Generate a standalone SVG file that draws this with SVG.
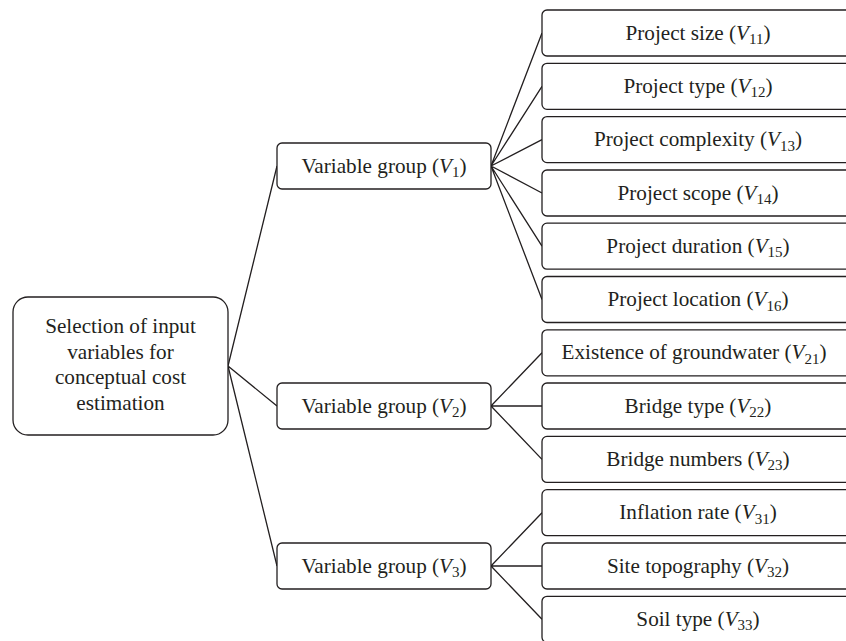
<svg xmlns="http://www.w3.org/2000/svg" width="846" height="641" viewBox="0 0 846 641">
<style>
.box{fill:#fff;stroke:#231f20;stroke-width:1.3}
.t{font-family:"Liberation Serif","Times New Roman",serif;font-size:21.2px;fill:#231f20;text-anchor:middle}
.v{font-style:italic}
.s{font-size:15px}
.c{stroke:#231f20;stroke-width:1.3;fill:none}
</style>
<rect width="846" height="641" fill="#fff"/>
<g id="connectors">
<path class="c" d="M228 366L277 166M228 366L277 406M228 366L277 566"/>
<path class="c" d="M491 166L542 33M491 166L542 86.3M491 166L542 139.6M491 166L542 193M491 166L542 246.2M491 166L542 299.5"/>
<path class="c" d="M491 406L542 352.8M491 406L542 406M491 406L542 459.4"/>
<path class="c" d="M491 566L542 512.7M491 566L542 566M491 566L542 619.3"/>
</g>
<g id="root">
<rect class="box" x="13" y="297" width="215" height="138" rx="15"/>
<text class="t" x="120.5" y="333">Selection of input</text>
<text class="t" x="120.5" y="358.6">variables for</text>
<text class="t" x="120.5" y="384.2">conceptual cost</text>
<text class="t" x="120.5" y="409.8">estimation</text>
</g>
<g id="v1">
<rect class="box" x="277" y="143" width="214" height="46" rx="5"/>
<text class="t" x="384" y="172.5">Variable group (<tspan class="v">V</tspan><tspan class="s" dy="4.5">1</tspan><tspan dy="-4.5">)</tspan></text>
</g>
<g id="v2">
<rect class="box" x="277" y="383" width="214" height="46" rx="5"/>
<text class="t" x="384" y="412.5">Variable group (<tspan class="v">V</tspan><tspan class="s" dy="4.5">2</tspan><tspan dy="-4.5">)</tspan></text>
</g>
<g id="v3">
<rect class="box" x="277" y="543" width="214" height="46" rx="5"/>
<text class="t" x="384" y="572.5">Variable group (<tspan class="v">V</tspan><tspan class="s" dy="4.5">3</tspan><tspan dy="-4.5">)</tspan></text>
</g>
<g id="v11">
<rect class="box" x="542" y="10" width="312" height="46" rx="5"/>
<text class="t" x="698" y="39.5">Project size (<tspan class="v">V</tspan><tspan class="s" dy="4.5">11</tspan><tspan dy="-4.5">)</tspan></text>
</g>
<g id="v12">
<rect class="box" x="542" y="63.3" width="312" height="46" rx="5"/>
<text class="t" x="698" y="92.8">Project type (<tspan class="v">V</tspan><tspan class="s" dy="4.5">12</tspan><tspan dy="-4.5">)</tspan></text>
</g>
<g id="v13">
<rect class="box" x="542" y="116.6" width="312" height="46" rx="5"/>
<text class="t" x="698" y="146.1">Project complexity (<tspan class="v">V</tspan><tspan class="s" dy="4.5">13</tspan><tspan dy="-4.5">)</tspan></text>
</g>
<g id="v14">
<rect class="box" x="542" y="170" width="312" height="46" rx="5"/>
<text class="t" x="698" y="199.5">Project scope (<tspan class="v">V</tspan><tspan class="s" dy="4.5">14</tspan><tspan dy="-4.5">)</tspan></text>
</g>
<g id="v15">
<rect class="box" x="542" y="223.2" width="312" height="46" rx="5"/>
<text class="t" x="698" y="252.7">Project duration (<tspan class="v">V</tspan><tspan class="s" dy="4.5">15</tspan><tspan dy="-4.5">)</tspan></text>
</g>
<g id="v16">
<rect class="box" x="542" y="276.5" width="312" height="46" rx="5"/>
<text class="t" x="698" y="306">Project location (<tspan class="v">V</tspan><tspan class="s" dy="4.5">16</tspan><tspan dy="-4.5">)</tspan></text>
</g>
<g id="v21">
<rect class="box" x="542" y="329.8" width="312" height="46" rx="5"/>
<text class="t" x="694" y="359.3">Existence of groundwater (<tspan class="v">V</tspan><tspan class="s" dy="4.5">21</tspan><tspan dy="-4.5">)</tspan></text>
</g>
<g id="v22">
<rect class="box" x="542" y="383" width="312" height="46" rx="5"/>
<text class="t" x="698" y="412.5">Bridge type (<tspan class="v">V</tspan><tspan class="s" dy="4.5">22</tspan><tspan dy="-4.5">)</tspan></text>
</g>
<g id="v23">
<rect class="box" x="542" y="436.4" width="312" height="46" rx="5"/>
<text class="t" x="698" y="465.9">Bridge numbers (<tspan class="v">V</tspan><tspan class="s" dy="4.5">23</tspan><tspan dy="-4.5">)</tspan></text>
</g>
<g id="v31">
<rect class="box" x="542" y="489.7" width="312" height="46" rx="5"/>
<text class="t" x="698" y="519.2">Inflation rate (<tspan class="v">V</tspan><tspan class="s" dy="4.5">31</tspan><tspan dy="-4.5">)</tspan></text>
</g>
<g id="v32">
<rect class="box" x="542" y="543" width="312" height="46" rx="5"/>
<text class="t" x="698" y="572.5">Site topography (<tspan class="v">V</tspan><tspan class="s" dy="4.5">32</tspan><tspan dy="-4.5">)</tspan></text>
</g>
<g id="v33">
<rect class="box" x="542" y="596.3" width="312" height="46" rx="5"/>
<text class="t" x="698" y="625.8">Soil type (<tspan class="v">V</tspan><tspan class="s" dy="4.5">33</tspan><tspan dy="-4.5">)</tspan></text>
</g>
</svg>
